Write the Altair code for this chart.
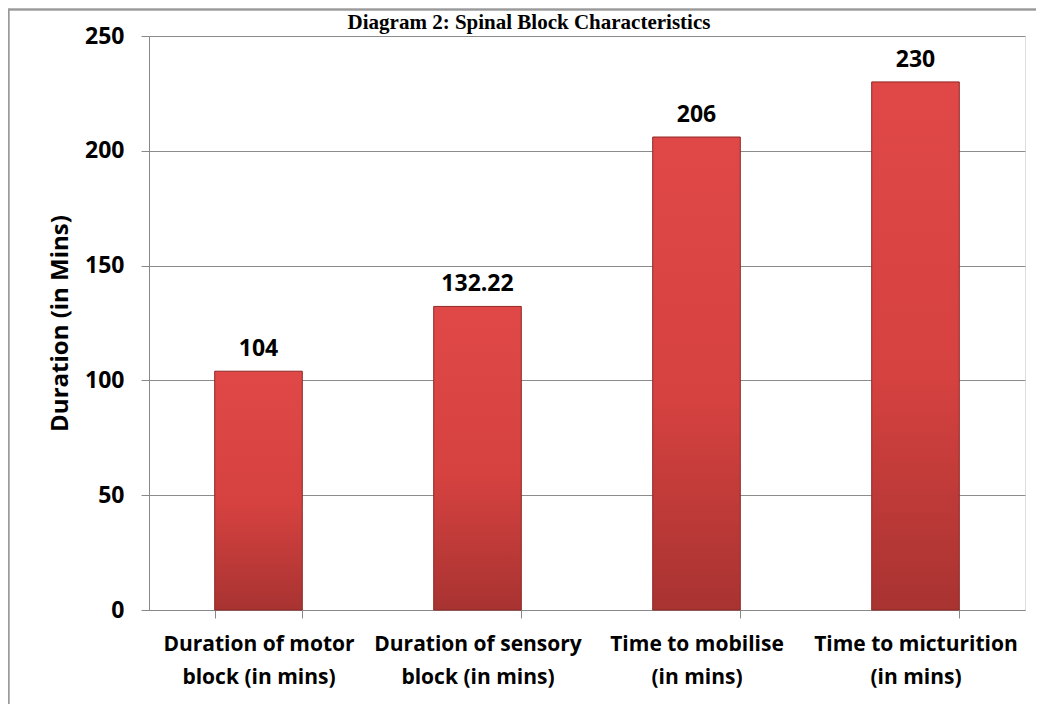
import altair as alt
import pandas as pd

categories = ["Duration of motor|block (in mins)", "Duration of sensory|block (in mins)",
              "Time to mobilise|(in mins)", "Time to micturition|(in mins)"]
values = [104, 132.22, 206, 230]
value_labels = ["104", "132.22", "206", "230"]
title_text = "Diagram 2: Spinal Block Characteristics"

df = pd.DataFrame({"cat": categories, "val": values, "lab": value_labels})
FONT = "Open Sans"

x_enc = alt.X("cat:N", sort=categories, title=None,
              scale=alt.Scale(paddingInner=0.6, paddingOuter=0.3),
              axis=alt.Axis(labelAngle=0, labelExpr="split(datum.label, '|')",
                            labelFont=FONT, labelFontSize=21, labelFontWeight="bold",
                            labelColor="black", labelLineHeight=33, labelPadding=15,
                            tickBand="extent", tickSize=8, tickColor="#888888",
                            domainColor="#888888", labelBaseline="top", labelLimit=300))
y_enc = alt.Y("val:Q", title="Duration (in Mins)",
              scale=alt.Scale(domain=[0, 250], nice=False),
              axis=alt.Axis(values=[0, 50, 100, 150, 200, 250], labelFont=FONT,
                            labelFontSize=23, labelFontWeight="bold", labelColor="black",
                            labelPadding=17, tickSize=8, tickColor="#888888",
                            domainColor="#888888", gridColor="#8c8c8c", grid=True,
                            titleFont=FONT, titleFontSize=24, titleFontWeight="bold",
                            titleColor="black", titlePadding=12))

base = alt.Chart(df)

bars = base.mark_bar(
    color=alt.Gradient(gradient="linear", x1=0, y1=0, x2=0, y2=1,
                       stops=[alt.GradientStop(color="#df4846", offset=0),
                              alt.GradientStop(color="#d64240", offset=0.55),
                              alt.GradientStop(color="#a83331", offset=1)]),
    stroke="#8e2826", strokeWidth=1
).encode(x=x_enc, y=y_enc)

texts = base.mark_text(font=FONT, fontSize=23, fontWeight="bold", color="black",
                       baseline="bottom", dy=-10).encode(
    x=alt.X("cat:N", sort=categories), y="val:Q", text="lab:N")

frame = base.mark_rect(fill=None, stroke="#999999", strokeWidth=1.5).encode(
    x=alt.value(-140.5), x2=alt.value(905), y=alt.value(-26.5), y2=alt.value(720))

title = alt.Chart(pd.DataFrame({"t": [title_text]})).mark_text(
    font="Liberation Serif", fontSize=21, fontWeight="bold", color="black",
    baseline="alphabetic", align="center").encode(
    x=alt.value(380), y=alt.value(-7), text="t:N")

chart = alt.layer(frame, bars, texts, title).properties(
    width=876, height=574,
    autosize=alt.AutoSizeParams(type="none"),
    padding={"left": 141, "top": 28, "right": 11, "bottom": 100}
).configure_view(stroke=None).configure(background="white")

chart.save("out.html", embed_options={"renderer": "svg", "actions": False})
